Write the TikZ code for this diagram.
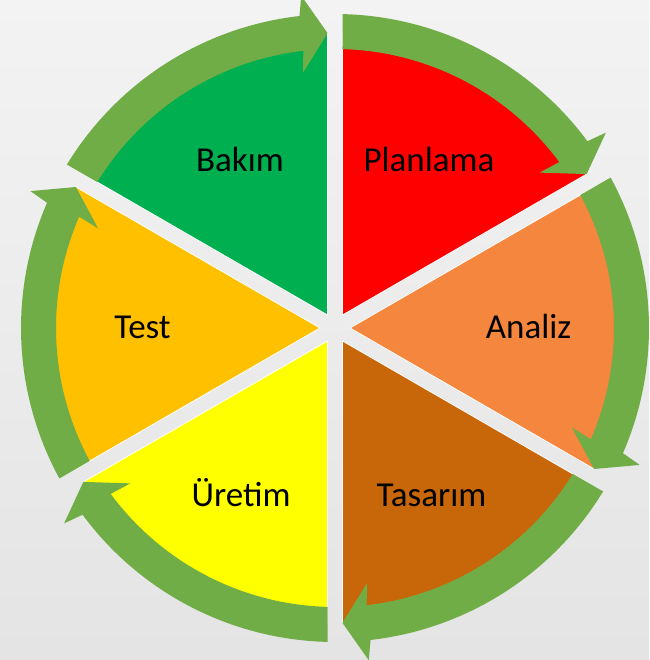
\documentclass[tikz,border=0pt]{standalone}
\usepackage{fontspec}
\setmainfont{Carlito}
\definecolor{bgtop}{RGB}{243,243,243}
\definecolor{bgbot}{RGB}{228,228,228}
\definecolor{cRed}{RGB}{255,0,0}
\definecolor{cOrange}{RGB}{244,134,62}
\definecolor{cBrown}{RGB}{200,102,10}
\definecolor{cYellow}{RGB}{255,255,0}
\definecolor{cGold}{RGB}{255,192,0}
\definecolor{cGreen}{RGB}{0,176,80}
\definecolor{arrowgreen}{RGB}{112,173,71}
\tikzset{
  sector/.style={draw=white, line width=0.8pt},
  band/.style={fill=arrowgreen},
  lbl/.style={font=\fontsize{35}{42}\selectfont, anchor=base, text=black, inner sep=0pt}
}
\begin{document}
\begin{tikzpicture}[x=1pt,y=1pt]
\fill[top color=bgtop,bottom color=bgbot] (0,0) rectangle (649,660);
\useasboundingbox (0,0) rectangle (649,660);
\begin{scope}[shift={(335,332)}]
\foreach \a/\c in {90/cRed,30/cOrange,-30/cBrown,-90/cYellow,-150/cGold,150/cGreen}{
  \pgfmathsetmacro\s{\a-1.457}
  \pgfmathsetmacro\e{\a-60+1.457}
  \pgfmathsetmacro\m{\a-30}
  \fill[fill=\c, sector] (\m:15pt) -- (\s:295pt) arc[start angle=\s, end angle=\e, radius=295pt] -- cycle;
}
\foreach \a in {90,30,-30,-90,-150,150}{
  \pgfmathsetmacro\si{\a-1.54}
  \pgfmathsetmacro\so{\a-1.37}
  \pgfmathsetmacro\w{\a-53.5}
  \pgfmathsetmacro\wo{\a-54.2}
  \pgfmathsetmacro\wi{\a-52.8}
  \pgfmathsetmacro\t{\a-58.55}
  \path[band] (\si:279pt) -- (\so:314pt) arc[start angle=\so, end angle=\w, radius=314pt]
    -- (\wo:334pt) -- (\t:295pt) -- (\wi:257pt) -- (\w:279pt)
    arc[start angle=\w, end angle=\si, radius=279pt] -- cycle;
}
\end{scope}
\node[lbl] (planlama) at (429,488) {Planlama};
\node[lbl] (bakim) at (240,488) {Bakım};
\node[lbl] (test) at (142.5,321) {Test};
\node[lbl] (analiz) at (528.5,321) {Analiz};
\node[lbl] (tasarim) at (431.5,153) {Tasarım};
\node[lbl] (uretim) at (241,153) {Üretim};
\end{tikzpicture}
\end{document}
